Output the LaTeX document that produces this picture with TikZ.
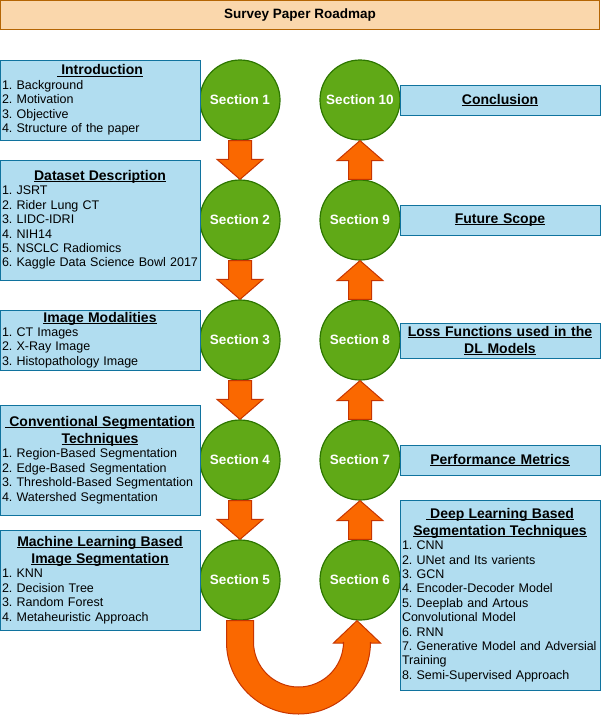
\documentclass[tikz,border=0pt]{standalone}
\usepackage{fontspec}
\setmainfont{Liberation Sans}
\usetikzlibrary{calc}
\setlength\parindent{0pt}
\frenchspacing
\hyphenpenalty=10000
\exhyphenpenalty=10000

\definecolor{hdrfill}{HTML}{FAD7AC}
\definecolor{hdrline}{HTML}{B46504}
\definecolor{boxfill}{HTML}{B1DDF0}
\definecolor{boxline}{HTML}{10739E}
\definecolor{secfill}{HTML}{60A917}
\definecolor{secline}{HTML}{2D7600}
\definecolor{arrfill}{HTML}{FA6800}
\definecolor{arrline}{HTML}{C73500}

\newsavebox\ulbox
\newcommand\uln[1]{\leavevmode\sbox\ulbox{#1}\rlap{\rule[-1.8pt]{\wd\ulbox}{0.9pt}}\usebox\ulbox}
\newcommand\hd[1]{{\centering\fontsize{14}{17}\selectfont\bfseries #1\par}}
\newcommand\blockdown[2]{%
  \draw[blockarrow] ($(#1.south)+(-11.5,0)$) -- ($(#2.north)+(-11.5,-20)$)
    -- ($(#2.north)+(-23,-20)$) -- (#2.north) -- ($(#2.north)+(23,-20)$)
    -- ($(#2.north)+(11.5,-20)$) -- ($(#1.south)+(11.5,0)$) -- cycle;}
\newcommand\blockup[2]{%
  \draw[blockarrow] ($(#1.north)+(-11.5,0)$) -- ($(#2.south)+(-11.5,20)$)
    -- ($(#2.south)+(-23,20)$) -- (#2.south) -- ($(#2.south)+(23,20)$)
    -- ($(#2.south)+(11.5,20)$) -- ($(#1.north)+(11.5,0)$) -- cycle;}

\tikzset{
  sect/.style={circle, draw=secline, fill=secfill, line width=1.2pt,
    minimum size=80pt, inner sep=0pt, text=white,
    font=\fontsize{13.5}{16}\selectfont\bfseries},
  topic/.style={rectangle, draw=boxline, fill=boxfill, line width=1pt,
    text width=196pt, inner xsep=2pt, inner ysep=0pt, align=left,
    font=\fontsize{12.5}{14.4}\selectfont},
  headline/.style={topic, align=center, font=\fontsize{14}{17}\selectfont\bfseries},
  blockarrow/.style={draw=arrline, fill=arrfill, line width=1pt, line join=miter},
}

\begin{document}
\begin{tikzpicture}[x=1pt, y=-1pt]
  \useasboundingbox (0,0) rectangle (601,715);

  \node[draw=hdrline, fill=hdrfill, line width=1pt, minimum width=599pt, minimum height=29pt,
    font=\fontsize{13.5}{16}\selectfont\bfseries] (head) at (300,15) {Survey Paper Roadmap};

  % left column
  \node[sect] (s1) at (240,100) {Section 1};
  \node[sect] (s2) at (240,220) {Section 2};
  \node[sect] (s3) at (240,340) {Section 3};
  \node[sect] (s4) at (240,460) {Section 4};
  \node[sect] (s5) at (240,580) {Section 5};

  % right column
  \node[sect] (s10) at (360,100) {Section 10};
  \node[sect] (s9) at (360,220) {Section 9};
  \node[sect] (s8) at (360,340) {Section 8};
  \node[sect] (s7) at (360,460) {Section 7};
  \node[sect] (s6) at (360,580) {Section 6};

  \node[topic, minimum height=80pt] (intro) at (100,100) {\hd{\uln{\ Introduction}}
    1. Background\\ 2. Motivation\\ 3. Objective\\ 4. Structure of the paper};
  \node[topic, minimum height=120pt] (data) at (100,220) {\hd{\uln{Dataset Description}}
    1. JSRT\\ 2. Rider Lung CT\\ 3. LIDC-IDRI\\ 4. NIH14\\ 5. NSCLC Radiomics\\
    6. Kaggle Data Science Bowl 2017};
  \node[topic, minimum height=60pt] (modal) at (100,340) {\hd{\uln{Image Modalities}}
    1. CT Images\\ 2. X-Ray Image\\ 3. Histopathology Image};
  \node[topic, minimum height=110pt] (conv) at (100,460)
    {\hd{\uln{\ Conventional Segmentation}\\\uln{Techniques}}
    1. Region-Based Segmentation\\ 2. Edge-Based Segmentation\\
    3. Threshold-Based Segmentation\\ 4. Watershed Segmentation};
  \node[topic, minimum height=100pt] (mlseg) at (100,580)
    {\hd{\uln{Machine Learning Based}\\\uln{Image Segmentation}}
    1. KNN\\ 2. Decision Tree\\ 3. Random Forest\\ 4. Metaheuristic Approach};

  \node[headline, minimum height=30pt] (concl) at (500,100) {\uln{Conclusion}};
  \node[headline, minimum height=30pt] (future) at (500,220) {\uln{Future Scope}};
  \node[headline, minimum height=35pt] (loss) at (500,340.5)
    {\uln{Loss Functions used in the}\\\uln{DL Models}};
  \node[headline, minimum height=30pt] (perf) at (500,460) {\uln{Performance Metrics}};
  \node[topic, minimum height=190pt] (deep) at (500,595)
    {\hd{\uln{\ Deep Learning Based}\\\uln{Segmentation Techniques}}
    1. CNN\\ 2. UNet and Its varients\\ 3. GCN\\ 4. Encoder-Decoder Model\\
    5. Deeplab and Artous\\ Convolutional Model\\ 6. RNN\\
    7. Generative Model and Adversial\\ Training\\ 8. Semi-Supervised Approach};

  \blockdown{s1}{s2}
  \blockdown{s2}{s3}
  \blockdown{s3}{s4}
  \blockdown{s4}{s5}
  \blockup{s6}{s7}
  \blockup{s7}{s8}
  \blockup{s8}{s9}
  \blockup{s9}{s10}

  % bend from section 5 to section 6
  \draw[blockarrow] ($(s5.south)+(-13.5,0)$) -- (226.5,642)
    arc[start angle=180, end angle=360, radius=72pt] -- (370.5,643) -- (380.5,643)
    -- ($(s6.south)+(-3,0)$) -- (333.5,643) -- (343.5,643) -- (343.5,642)
    arc[start angle=360, end angle=180, radius=45pt] -- ($(s5.south)+(13.5,0)$) -- cycle;
\end{tikzpicture}
\end{document}
